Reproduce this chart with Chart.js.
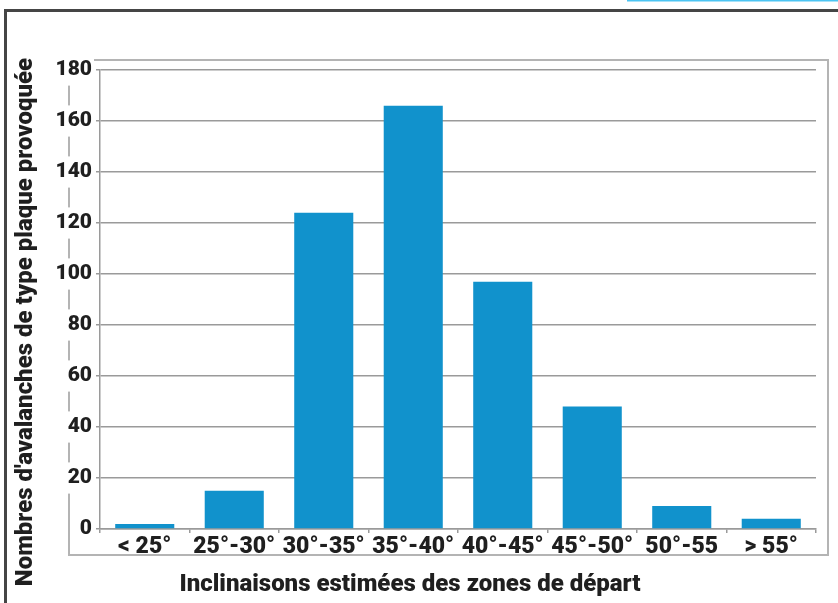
<!DOCTYPE html>
<html><head><meta charset="utf-8">
<script src="https://cdn.jsdelivr.net/npm/chart.js@4"></script>
<style>html,body{margin:0;padding:0;background:#fff;}#wrap{width:838px;height:603px;position:relative;}</style>
</head><body><div id="wrap"><canvas id="c" width="838" height="603"></canvas></div>
<script>
const categories = ["< 25°", "25°-30°", "30°-35°", "35°-40°", "40°-45°", "45°-50°", "50°-55", "> 55°"];
const avalanches = [2, 15, 124, 166, 97, 48, 9, 4];
const yTicks = [0, 20, 40, 60, 80, 100, 120, 140, 160, 180];
const xTitle = "Inclinaisons estimées des zones de départ";
const yTitle = "Nombres d'avalanches de type plaque provoquée";

const frame = {
  id: 'frame',
  beforeDraw(chart) {
    const ctx = chart.ctx;
    ctx.save();
    ctx.fillStyle = '#fff';
    ctx.fillRect(0, 0, chart.width, chart.height);
    ctx.strokeStyle = '#4cc4f2';
    ctx.lineWidth = 2;
    ctx.beginPath(); ctx.moveTo(627, 0.5); ctx.lineTo(838, 0.5); ctx.stroke();
    ctx.strokeStyle = '#454545';
    ctx.lineWidth = 3;
    ctx.beginPath(); ctx.moveTo(838, 10.5); ctx.lineTo(5.5, 10.5); ctx.lineTo(5.5, 603); ctx.stroke();
    ctx.strokeStyle = '#b4b4b4';
    ctx.lineWidth = 2;
    ctx.strokeRect(69, 60, 759, 495);
    ctx.restore();
  },
  afterDraw(chart) {
    const ctx = chart.ctx;
    ctx.save();
    ctx.fillStyle = '#1f1f1f';
    ctx.font = '900 24px Roboto';
    ctx.textAlign = 'center';
    ctx.textBaseline = 'middle';
    ctx.fillText(xTitle, 410, 585);
    ctx.translate(26, 322);
    ctx.rotate(-Math.PI / 2);
    ctx.fillText(yTitle, 0, 0);
    ctx.restore();
  }
};

new Chart(document.getElementById('c'), {
  type: 'bar',
  data: {
    labels: categories,
    datasets: [{
      data: avalanches,
      backgroundColor: '#1192cc',
      borderWidth: 0,
      categoryPercentage: 0.66,
      barPercentage: 1
    }]
  },
  options: {
    responsive: false,
    animation: false,
    devicePixelRatio: 1,
    layout: { padding: { top: 70, right: 22, left: 0, bottom: 0 } },
    plugins: { legend: { display: false }, tooltip: { enabled: false } },
    scales: {
      x: {
        offset: true,
        grid: { display: true, drawOnChartArea: false, drawTicks: true, tickLength: 4, color: '#9a9a9a', lineWidth: 1.5, offset: true },
        border: { display: true, color: '#9a9a9a', width: 1.5 },
        ticks: { color: '#1f1f1f', font: { family: 'Roboto', weight: '900', size: 23 }, padding: 0, maxRotation: 0, autoSkip: false },
        afterFit(scale) { scale.height = 74; }
      },
      y: {
        min: 0, max: 180,
        afterBuildTicks(scale) { scale.ticks = yTicks.map(v => ({ value: v })); },
        grid: { color: '#9a9a9a', lineWidth: 1.5, tickLength: 4, drawTicks: true },
        border: { display: true, color: '#9a9a9a', width: 1.5 },
        ticks: { color: '#1f1f1f', font: { family: 'Roboto', weight: '900', size: 21 }, padding: 4,
                 showLabelBackdrop: true, backdropColor: '#fff', backdropPadding: { top: 3, bottom: 3, left: 2, right: 2 } },
        afterFit(scale) { scale.width = 100; }
      }
    }
  },
  plugins: [frame]
});
</script></body></html>
